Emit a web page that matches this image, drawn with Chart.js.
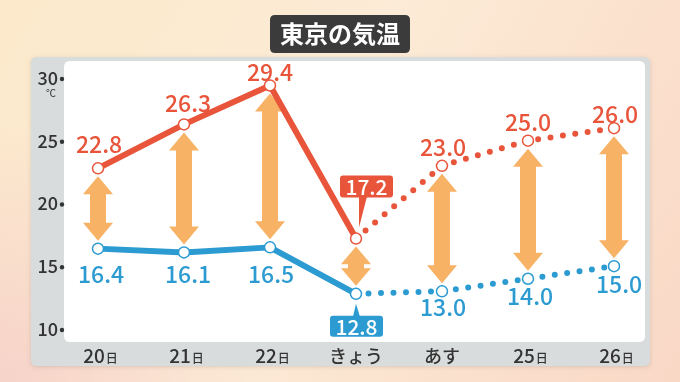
<!DOCTYPE html>
<html><head><meta charset="utf-8">
<script src="https://cdn.jsdelivr.net/npm/chart.js@4"></script>
<style>html,body{margin:0;padding:0;background:#fbe8d2;}canvas{display:block;}</style>
</head><body>
<canvas id="c" width="680" height="382"></canvas>
<script>
const categories = ['20日','21日','22日','きょう','あす','25日','26日'];
const highTemps = [22.8, 26.3, 29.4, 17.2, 23.0, 25.0, 26.0];
const lowTemps  = [16.4, 16.1, 16.5, 12.8, 13.0, 14.0, 15.0];
const yTicks = [10, 15, 20, 25, 30];
const title = '東京の気温';
const todayIndex = 3;

const RED = '#e8553b', BLUE = '#2c9bd1', ORANGE = '#f7b265', DARK = '#333333';
const FONT = '"Noto Sans CJK JP", "Noto Sans", sans-serif';
// label offsets (px) relative to each point
const highLabelOffset = [[1,-24],[4,-21],[0,-13],null,[1,-19],[0,-18],[1,-14]];
const lowLabelOffset  = [[3,26],[4,22],[1,27],null,[1,16],[2,18],[5,18]];

function rr(ctx,x,y,w,h,r){ctx.beginPath();ctx.moveTo(x+r,y);ctx.lineTo(x+w-r,y);ctx.quadraticCurveTo(x+w,y,x+w,y+r);ctx.lineTo(x+w,y+h-r);ctx.quadraticCurveTo(x+w,y+h,x+w-r,y+h);ctx.lineTo(x+r,y+h);ctx.quadraticCurveTo(x,y+h,x,y+h-r);ctx.lineTo(x,y+r);ctx.quadraticCurveTo(x,y,x+r,y);ctx.closePath();}

const bgPlugin = {
  id:'bg',
  beforeDraw(chart){
    const ctx = chart.ctx, W = chart.width, H = chart.height, a = chart.chartArea;
    ctx.save();
    let g = ctx.createLinearGradient(0,0,W,H);
    g.addColorStop(0,'#fce9cb'); g.addColorStop(0.45,'#fcebd6'); g.addColorStop(1,'#f9d8c6');
    ctx.fillStyle = g; ctx.fillRect(0,0,W,H);
    let g2 = ctx.createRadialGradient(0,H,0,0,H,260);
    g2.addColorStop(0,'rgba(246,208,200,0.9)'); g2.addColorStop(1,'rgba(246,208,200,0)');
    ctx.fillStyle = g2; ctx.fillRect(0,0,W,H);
    // grey panel
    ctx.shadowColor='rgba(0,0,0,0.12)'; ctx.shadowBlur=4; ctx.shadowOffsetY=1;
    ctx.fillStyle = '#d9dcdc'; rr(ctx,31,57,619,309,6); ctx.fill();
    ctx.shadowColor='transparent';
    // white plot
    ctx.fillStyle = '#ffffff'; rr(ctx,64,a.top,581,a.bottom-a.top,6); ctx.fill();
    // title
    ctx.fillStyle = '#3b3b3b'; rr(ctx,270,15,140,38,5); ctx.fill();
    ctx.fillStyle = '#ffffff'; ctx.font = 'bold 24px '+FONT; ctx.textAlign='center'; ctx.textBaseline='middle';
    ctx.fillText(title, 340, 34);
    // y ticks
    const ys = chart.scales.y;
    ctx.fillStyle = DARK; ctx.font = '500 18px '+FONT; ctx.textAlign='right';
    yTicks.forEach(t=>{
      const y = ys.getPixelForValue(t);
      ctx.fillText(String(t), 58, y);
      ctx.beginPath(); ctx.arc(62, y+1, 2.2, 0, Math.PI*2); ctx.fill();
    });
    ctx.font = '10px '+FONT; ctx.textAlign='center';
    ctx.fillText('℃', 51, ys.getPixelForValue(30)+15);
    // x labels
    const xs = chart.scales.x;
    categories.forEach((c,i)=>{
      const x = xs.getPixelForValue(i) + 2;
      const y = 356;
      if (c.endsWith('日')) {
        const num = c.slice(0,-1);
        ctx.font = '500 19px '+FONT; const w1 = ctx.measureText(num).width;
        ctx.font = '500 12px '+FONT; const w2 = ctx.measureText('日').width;
        const x0 = x - (w1+w2)/2;
        ctx.textAlign='left';
        ctx.font = '500 19px '+FONT; ctx.fillText(num, x0, y);
        ctx.font = '500 12px '+FONT; ctx.fillText('日', x0+w1+1, y+2);
      } else {
        ctx.textAlign='center'; ctx.font = '500 18px '+FONT; ctx.fillText(c, x-2, y);
      }
    });
    ctx.restore();
  },
  beforeDatasetsDraw(chart){
    const ctx = chart.ctx, xs = chart.scales.x, ys = chart.scales.y;
    ctx.save(); ctx.fillStyle = ORANGE;
    highTemps.forEach((h,i)=>{
      const x = xs.getPixelForValue(i);
      const yT = ys.getPixelForValue(h) + 8, yB = ys.getPixelForValue(lowTemps[i]) - 8;
      const hl = Math.min(18, (yB-yT)/2 - 2), hh = 15, sh = 8;
      ctx.beginPath();
      ctx.moveTo(x,yT); ctx.lineTo(x+hh,yT+hl); ctx.lineTo(x+sh,yT+hl); ctx.lineTo(x+sh,yB-hl);
      ctx.lineTo(x+hh,yB-hl); ctx.lineTo(x,yB); ctx.lineTo(x-hh,yB-hl); ctx.lineTo(x-sh,yB-hl);
      ctx.lineTo(x-sh,yT+hl); ctx.lineTo(x-hh,yT+hl); ctx.closePath(); ctx.fill();
    });
    ctx.restore();
  },
  afterDatasetsDraw(chart){
    const ctx = chart.ctx, xs = chart.scales.x, ys = chart.scales.y;
    ctx.save();
    ctx.textAlign='center'; ctx.textBaseline='middle'; ctx.font = '500 23px '+FONT;
    const drawSet = (vals, offs, color) => {
      vals.forEach((v,i)=>{
        if (!offs[i]) return;
        ctx.fillStyle = color;
        ctx.fillText(v.toFixed(1), xs.getPixelForValue(i)+offs[i][0], ys.getPixelForValue(v)+offs[i][1]);
      });
    };
    drawSet(highTemps, highLabelOffset, RED);
    drawSet(lowTemps, lowLabelOffset, BLUE);
    // today boxes
    const x = xs.getPixelForValue(todayIndex);
    const yh = ys.getPixelForValue(highTemps[todayIndex]);
    const yl = ys.getPixelForValue(lowTemps[todayIndex]);
    ctx.font = '500 21px '+FONT;
    // high box
    ctx.fillStyle = RED;
    rr(ctx, x-16, yh-63, 53, 22, 3); ctx.fill();
    ctx.beginPath(); ctx.moveTo(x+3, yh-42); ctx.lineTo(x+11, yh-42); ctx.lineTo(x+3, yh-11); ctx.closePath(); ctx.fill();
    ctx.fillStyle = '#fff'; ctx.fillText(highTemps[todayIndex].toFixed(1), x+10.5, yh-51.5);
    // low box
    ctx.fillStyle = BLUE;
    rr(ctx, x-26, yl+22, 53, 21, 3); ctx.fill();
    ctx.beginPath(); ctx.moveTo(x-3, yl+23); ctx.lineTo(x+4, yl+23); ctx.lineTo(x, yl+10); ctx.closePath(); ctx.fill();
    ctx.fillStyle = '#fff'; ctx.fillText(lowTemps[todayIndex].toFixed(1), x+0.5, yl+33);
    ctx.restore();
  }
};

const dotted = ctx => ctx.p0DataIndex >= todayIndex ? [0, 12.5] : undefined;
function ds(data, color){
  return {
    data, borderColor: color, borderWidth: 6, borderCapStyle:'round', borderJoinStyle:'round',
    pointRadius: 5.5, pointHoverRadius: 5.5, pointBorderWidth: 1.5,
    pointBackgroundColor:'#ffffff', pointBorderColor: color, tension: 0, fill:false,
    segment: { borderDash: dotted }
  };
}

new Chart(document.getElementById('c'), {
  type:'line',
  data:{ labels: categories, datasets:[ ds(highTemps, RED), ds(lowTemps, BLUE) ] },
  options:{
    responsive:false, animation:false, devicePixelRatio:1,
    layout:{ padding:{ left:55, right:23, top:61, bottom:40 } },
    plugins:{ legend:{display:false}, tooltip:{enabled:false} },
    scales:{
      x:{ display:false, offset:true },
      y:{ display:false, min:8.96, max:31.35 }
    }
  },
  plugins:[bgPlugin]
});
</script>
</body></html>
